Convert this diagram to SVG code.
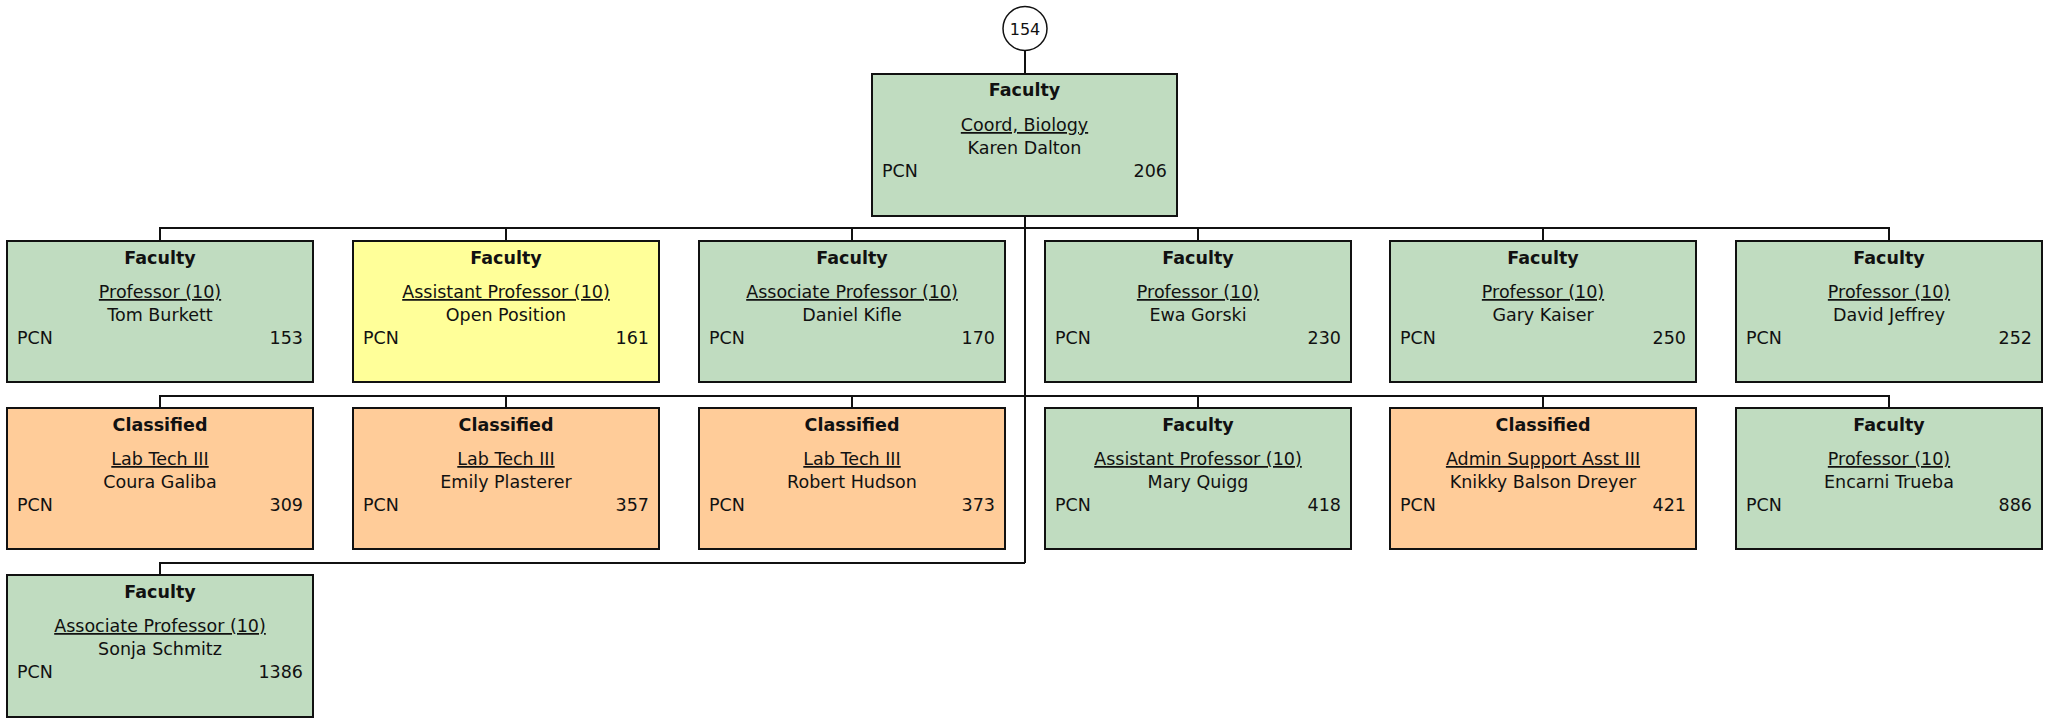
<svg xmlns="http://www.w3.org/2000/svg" width="2049" height="720" viewBox="0 0 2049 720">
<style>
.box{stroke:#111;stroke-width:2}
.fac{fill:#C0DCC0}
.cls{fill:#FFCC99}
.open{fill:#FFFF99}
text{font-family:"DejaVu Sans","Liberation Sans",sans-serif;font-size:17.5px;fill:#111}
.t{font-weight:bold;text-anchor:middle}
.c{text-anchor:middle}
.u{text-anchor:middle;text-decoration:underline}
.r{text-anchor:end}
.conn{stroke:#111;stroke-width:2;fill:none}
</style>
<rect width="2049" height="720" fill="#fff"/>
<g id="connectors">
<path class="conn" d="M1025 51V74"/>
<path class="conn" d="M1025 216V563"/>
<path class="conn" d="M160 241V228H1889V241M506 228V241M852 228V241M1198 228V241M1543 228V241"/>
<path class="conn" d="M160 408V396H1889V408M506 396V408M852 396V408M1198 396V408M1543 396V408"/>
<path class="conn" d="M160 575V563H1025"/>
</g>
<g id="n154">
<circle cx="1025" cy="28.5" r="22" fill="#fff" stroke="#111" stroke-width="1.5"/>
<text class="c" x="1025" y="35" style="font-size:16px">154</text>
</g>
<g id="n206">
<rect class="box fac" x="872" y="74" width="305" height="142"/>
<text class="t" x="1024.5" y="96">Faculty</text>
<text class="u" x="1024.5" y="131">Coord, Biology</text>
<text class="c" x="1024.5" y="154">Karen Dalton</text>
<text x="882" y="177">PCN</text>
<text class="r" x="1167" y="177">206</text>
</g>
<g id="n153">
<rect class="box fac" x="7" y="241" width="306" height="141"/>
<text class="t" x="160" y="264">Faculty</text>
<text class="u" x="160" y="298">Professor (10)</text>
<text class="c" x="160" y="321">Tom Burkett</text>
<text x="17" y="344">PCN</text>
<text class="r" x="303" y="344">153</text>
</g>
<g id="n161">
<rect class="box open" x="353" y="241" width="306" height="141"/>
<text class="t" x="506" y="264">Faculty</text>
<text class="u" x="506" y="298">Assistant Professor (10)</text>
<text class="c" x="506" y="321">Open Position</text>
<text x="363" y="344">PCN</text>
<text class="r" x="649" y="344">161</text>
</g>
<g id="n170">
<rect class="box fac" x="699" y="241" width="306" height="141"/>
<text class="t" x="852" y="264">Faculty</text>
<text class="u" x="852" y="298">Associate Professor (10)</text>
<text class="c" x="852" y="321">Daniel Kifle</text>
<text x="709" y="344">PCN</text>
<text class="r" x="995" y="344">170</text>
</g>
<g id="n230">
<rect class="box fac" x="1045" y="241" width="306" height="141"/>
<text class="t" x="1198" y="264">Faculty</text>
<text class="u" x="1198" y="298">Professor (10)</text>
<text class="c" x="1198" y="321">Ewa Gorski</text>
<text x="1055" y="344">PCN</text>
<text class="r" x="1341" y="344">230</text>
</g>
<g id="n250">
<rect class="box fac" x="1390" y="241" width="306" height="141"/>
<text class="t" x="1543" y="264">Faculty</text>
<text class="u" x="1543" y="298">Professor (10)</text>
<text class="c" x="1543" y="321">Gary Kaiser</text>
<text x="1400" y="344">PCN</text>
<text class="r" x="1686" y="344">250</text>
</g>
<g id="n252">
<rect class="box fac" x="1736" y="241" width="306" height="141"/>
<text class="t" x="1889" y="264">Faculty</text>
<text class="u" x="1889" y="298">Professor (10)</text>
<text class="c" x="1889" y="321">David Jeffrey</text>
<text x="1746" y="344">PCN</text>
<text class="r" x="2032" y="344">252</text>
</g>
<g id="n309">
<rect class="box cls" x="7" y="408" width="306" height="141"/>
<text class="t" x="160" y="431">Classified</text>
<text class="u" x="160" y="465">Lab Tech III</text>
<text class="c" x="160" y="488">Coura Galiba</text>
<text x="17" y="511">PCN</text>
<text class="r" x="303" y="511">309</text>
</g>
<g id="n357">
<rect class="box cls" x="353" y="408" width="306" height="141"/>
<text class="t" x="506" y="431">Classified</text>
<text class="u" x="506" y="465">Lab Tech III</text>
<text class="c" x="506" y="488">Emily Plasterer</text>
<text x="363" y="511">PCN</text>
<text class="r" x="649" y="511">357</text>
</g>
<g id="n373">
<rect class="box cls" x="699" y="408" width="306" height="141"/>
<text class="t" x="852" y="431">Classified</text>
<text class="u" x="852" y="465">Lab Tech III</text>
<text class="c" x="852" y="488">Robert Hudson</text>
<text x="709" y="511">PCN</text>
<text class="r" x="995" y="511">373</text>
</g>
<g id="n418">
<rect class="box fac" x="1045" y="408" width="306" height="141"/>
<text class="t" x="1198" y="431">Faculty</text>
<text class="u" x="1198" y="465">Assistant Professor (10)</text>
<text class="c" x="1198" y="488">Mary Quigg</text>
<text x="1055" y="511">PCN</text>
<text class="r" x="1341" y="511">418</text>
</g>
<g id="n421">
<rect class="box cls" x="1390" y="408" width="306" height="141"/>
<text class="t" x="1543" y="431">Classified</text>
<text class="u" x="1543" y="465">Admin Support Asst III</text>
<text class="c" x="1543" y="488">Knikky Balson Dreyer</text>
<text x="1400" y="511">PCN</text>
<text class="r" x="1686" y="511">421</text>
</g>
<g id="n886">
<rect class="box fac" x="1736" y="408" width="306" height="141"/>
<text class="t" x="1889" y="431">Faculty</text>
<text class="u" x="1889" y="465">Professor (10)</text>
<text class="c" x="1889" y="488">Encarni Trueba</text>
<text x="1746" y="511">PCN</text>
<text class="r" x="2032" y="511">886</text>
</g>
<g id="n1386">
<rect class="box fac" x="7" y="575" width="306" height="142"/>
<text class="t" x="160" y="598">Faculty</text>
<text class="u" x="160" y="632">Associate Professor (10)</text>
<text class="c" x="160" y="655">Sonja Schmitz</text>
<text x="17" y="678">PCN</text>
<text class="r" x="303" y="678">1386</text>
</g>
</svg>
